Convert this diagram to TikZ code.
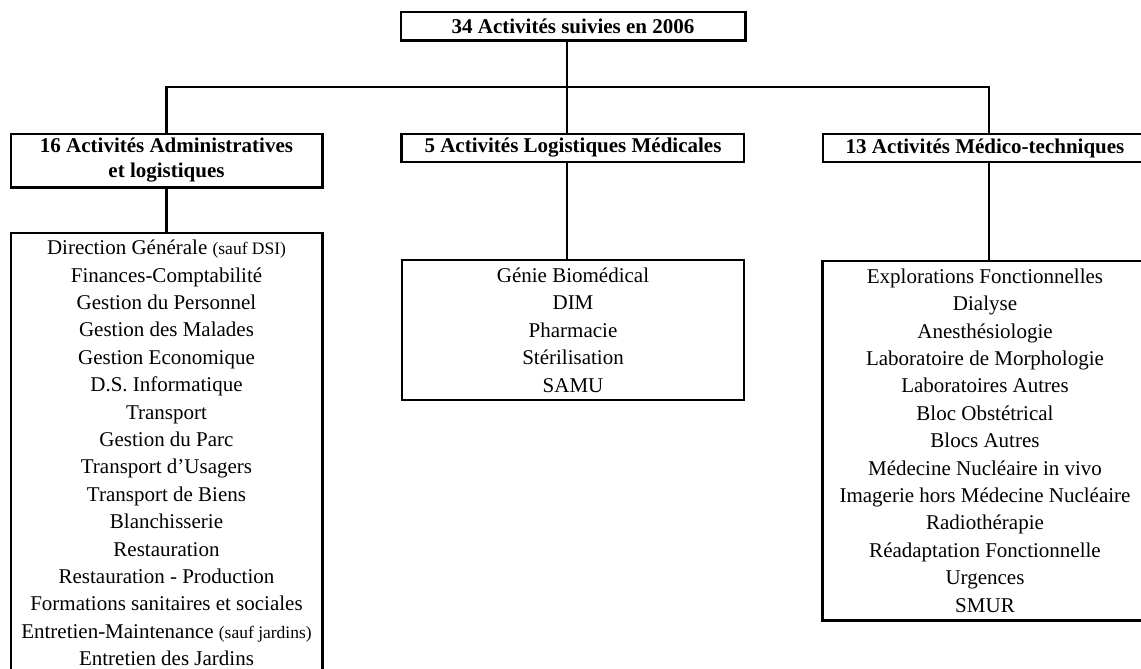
\documentclass[tikz,border=0pt]{standalone}
\usepackage{fontspec}
\setmainfont{Liberation Serif}
\newcommand{\petit}[1]{{\fontsize{17.5}{17.5}\selectfont #1}}

\begin{document}
\begin{tikzpicture}[x=1pt, y=-1pt,
    box/.style={draw, line width=1.2pt, inner sep=0pt, align=center},
    head/.style={box, font=\fontsize{21}{25}\selectfont\bfseries},
    list/.style={box, font=\fontsize{21}{27.4}\selectfont},
    wire/.style={line width=2.2pt},
    boxshadow/.style={line width=2.6pt}]
      \useasboundingbox (0, 0) rectangle (1141, 669);
      \clip (0, 0) rectangle (1141, 669);

      %% top
      \node[head, minimum width=344pt, minimum height=28pt] (top) at (573, 26)
        {34 Activités suivies en 2006};
      \coordinate (spine) at (567, 87);
      \coordinate (medcol) at (989, 87);

      %% three headers
      \node[head, minimum width=311pt, minimum height=53pt] (admin) at (166.5, 160.5)
        {16 Activités Administratives\\et logistiques};
      \node[head, minimum width=342pt, minimum height=28pt] (logmed) at (573, 148)
        {5 Activités Logistiques Médicales};
      \node[head, minimum width=324pt, minimum height=28pt] (medtech) at (985, 148)
        {13 Activités Médico-techniques};

      %% lists
      \node[list, minimum width=311pt, minimum height=440pt] (adminlist) at (166.5, 453)
        {Direction Générale \petit{(sauf DSI)}\\
         Finances-Comptabilité\\
         Gestion du Personnel\\
         Gestion des Malades\\
         Gestion Economique\\
         D.S. Informatique\\
         Transport\\
         Gestion du Parc\\
         Transport d'Usagers\\
         Transport de Biens\\
         Blanchisserie\\
         Restauration\\
         Restauration - Production\\
         Formations sanitaires et sociales\\
         Entretien-Maintenance \petit{(sauf jardins)}\\
         Entretien des Jardins};
      \node[list, minimum width=342pt, minimum height=140pt] (logmedlist) at (573, 330)
        {Génie Biomédical\\
         DIM\\
         Pharmacie\\
         Stérilisation\\
         SAMU};
      \node[list, minimum width=324pt, minimum height=359pt] (medtechlist) at (985, 440.5)
        {Explorations Fonctionnelles\\
         Dialyse\\
         Anesthésiologie\\
         Laboratoire de Morphologie\\
         Laboratoires Autres\\
         Bloc Obstétrical\\
         Blocs Autres\\
         Médecine Nucléaire in vivo\\
         Imagerie hors Médecine Nucléaire\\
         Radiothérapie\\
         Réadaptation Fonctionnelle\\
         Urgences\\
         SMUR};

      %% shadows
      \draw[boxshadow] (top.north east) -- (top.south east) -- (top.south west);
      \draw[boxshadow] (admin.north east) -- (admin.south east) -- (admin.south west);
      \draw[boxshadow] (logmed.north west) -- (logmed.south west);
      \draw[boxshadow] (adminlist.north east) -- (adminlist.south east) -- (adminlist.south west);
      \draw[boxshadow] (medtechlist.south east) -- (medtechlist.south west) -- (medtechlist.north west);

      %% connectors
      \draw[wire] (spine |- top.south) -- (spine |- logmed.north);
      \draw[wire] (admin.north) |- (spine) -- (medcol) -- (medcol |- medtech.north);
      \draw[wire] (admin.south) -- (adminlist.north);
      \draw[wire] (spine |- logmed.south) -- (spine |- logmedlist.north);
      \draw[wire] (medcol |- medtech.south) -- (medcol |- medtechlist.north);
\end{tikzpicture}
\end{document}
